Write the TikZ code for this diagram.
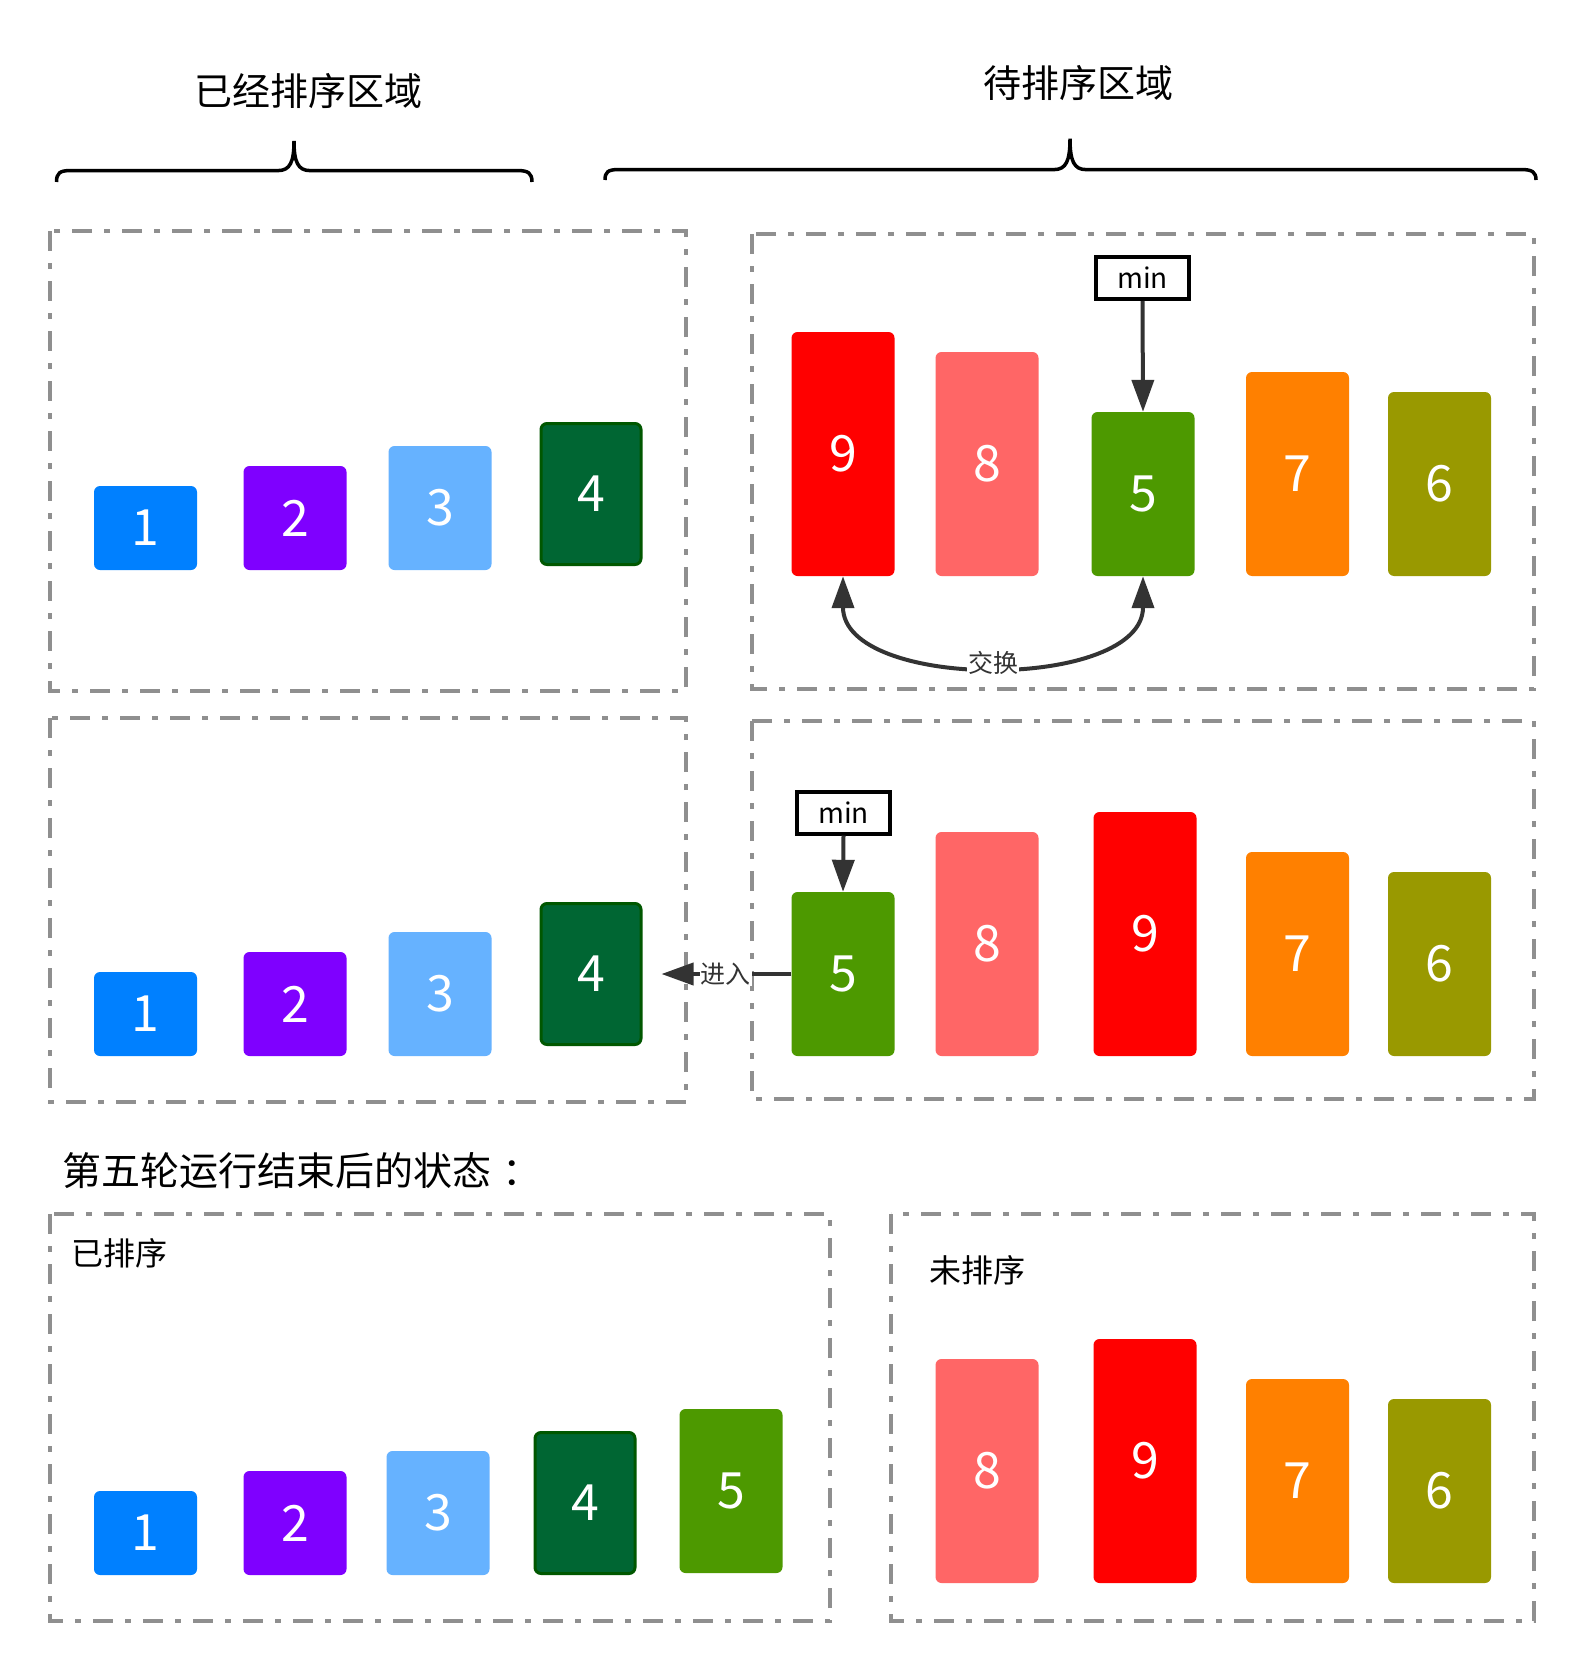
\documentclass[tikz,border=0pt]{standalone}
\usepackage{fontspec}
\setmainfont{Noto Sans CJK SC}
\usetikzlibrary{arrows.meta}
\definecolor{c1}{HTML}{0080FF}
\definecolor{c2}{HTML}{7F00FF}
\definecolor{c3}{HTML}{66B2FF}
\definecolor{c4}{HTML}{006633}
\definecolor{c4b}{HTML}{005700}
\definecolor{c5}{HTML}{4D9900}
\definecolor{c6}{HTML}{999900}
\definecolor{c7}{HTML}{FF8000}
\definecolor{c8}{HTML}{FF6666}
\definecolor{c9}{HTML}{FF0000}
\definecolor{ink}{HTML}{333333}
\definecolor{boxgray}{HTML}{8F8F8F}
\tikzset{
  bar/.style={rectangle, rounded corners=6pt, minimum width=103pt, inner sep=0pt, text=white, font=\fontsize{50}{50}\selectfont},
  v1/.style={bar, fill=c1, minimum height=84pt},
  v2/.style={bar, fill=c2, minimum height=104pt},
  v3/.style={bar, fill=c3, minimum height=124pt},
  v4/.style={bar, fill=c4, draw=c4b, line width=3pt, minimum width=100pt, minimum height=141pt},
  v5/.style={bar, fill=c5, minimum height=164pt},
  v6/.style={bar, fill=c6, minimum height=184pt},
  v7/.style={bar, fill=c7, minimum height=204pt},
  v8/.style={bar, fill=c8, minimum height=224pt},
  v9/.style={bar, fill=c9, minimum height=244pt},
  region/.style={draw=boxgray, line width=4pt, dash pattern=on 20pt off 12pt on 6pt off 12pt},
  minbox/.style={draw=black, line width=4pt, minimum width=93pt, minimum height=42pt, inner sep=0pt, font=\fontsize{28}{28}\selectfont},
  conn/.style={draw=ink, line width=4pt},
  tip/.style={-{Triangle[length=32pt,width=22pt]}},
  lbl/.style={fill=white, text=ink, inner sep=1pt, font=\fontsize{25}{25}\selectfont},
  title/.style={font=\fontsize{38}{38}\selectfont, inner sep=0pt},
  brace/.style={draw=black, line width=3.5pt},
}
\begin{document}
\begin{tikzpicture}[x=1pt, y=-1pt]
\useasboundingbox[fill=white] (0,0) rectangle (1586,1672);

% titles and braces
\node[title] (t1) at (308,91) {已经排序区域};
\node[title] (t2) at (1078,83) {待排序区域};
\draw[brace] (56.5,182) .. controls (56.5,173) and (60,170.6) .. (70,170.6) -- (278,170.6)
  .. controls (290,170.6) and (294,162) .. (294,141)
  .. controls (294,162) and (298,170.6) .. (310,170.6) -- (518,170.6)
  .. controls (528,170.6) and (532,173) .. (532,182);
\draw[brace] (605,180) .. controls (605,172) and (608,169.6) .. (618,169.6) -- (1054,169.6)
  .. controls (1066,169.6) and (1070,161) .. (1070,138.7)
  .. controls (1070,161) and (1074,169.6) .. (1086,169.6) -- (1522,169.6)
  .. controls (1532,169.6) and (1536,172) .. (1536,180);

% region frames
\draw[region] (50,231) rectangle (686,691);
\draw[region] (752,234) rectangle (1534,689);
\draw[region] (50,718) rectangle (686,1102);
\draw[region] (752,721) rectangle (1534,1099);
\draw[region] (50,1214) rectangle (830,1621);
\draw[region] (891,1214) rectangle (1534,1621);

% top-left
\node[v1] (a1) at (145.5,528) {1};
\node[v2] (a2) at (295,518) {2};
\node[v3] (a3) at (440,508) {3};
\node[v4] (a4) at (591,494) {4};

% top-right
\node[v9] (b9) at (843,454) {9};
\node[v8] (b8) at (987,464) {8};
\node[v5] (b5) at (1143,494) {5};
\node[v7] (b7) at (1297.5,474) {7};
\node[v6] (b6) at (1439.5,484) {6};
\node[minbox] (m1) at (1142.5,278) {min};
\draw[conn, tip] (m1.south) -- (b5.north);
\draw[conn, {Triangle[length=32pt,width=22pt]}-{Triangle[length=32pt,width=22pt]}]
  (b9.south) .. controls +(0,115) and +(0,115) .. node[lbl, pos=0.5] (x1) {交换} (b5.south);

% middle-left
\node[v1] (c1) at (145.5,1014) {1};
\node[v2] (c2) at (295,1004) {2};
\node[v3] (c3) at (440,994) {3};
\node[v4] (c4) at (591,974) {4};

% middle-right
\node[v5] (d5) at (843,974) {5};
\node[v8] (d8) at (987,944) {8};
\node[v9] (d9) at (1145,934) {9};
\node[v7] (d7) at (1297.5,954) {7};
\node[v6] (d6) at (1439.5,964) {6};
\node[minbox] (m2) at (843.5,812.5) {min};
\draw[conn, tip] (m2.south) -- (d5.north);
\draw[conn, tip, shorten >=19pt] (d5.west) -- node[lbl, pos=0.44] (x2) {进入} (c4.east);

% bottom
\node[anchor=west, inner sep=0pt, font=\fontsize{39}{39}\selectfont] (t3) at (62,1171) {第五轮运行结束后的状态\kern0.3em：};
\node[anchor=west, inner sep=0pt, font=\fontsize{32}{32}\selectfont] (t4) at (71,1253) {已排序};
\node[anchor=west, inner sep=0pt, font=\fontsize{32}{32}\selectfont] (t5) at (929,1270) {未排序};

\node[v1] (e1) at (145.5,1533) {1};
\node[v2] (e2) at (295,1523) {2};
\node[v3] (e3) at (438,1513) {3};
\node[v4] (e4) at (585,1503) {4};
\node[v5] (e5) at (731,1491) {5};

\node[v8] (f8) at (987,1471) {8};
\node[v9] (f9) at (1145,1461) {9};
\node[v7] (f7) at (1297.5,1481) {7};
\node[v6] (f6) at (1439.5,1491) {6};
\end{tikzpicture}
\end{document}
